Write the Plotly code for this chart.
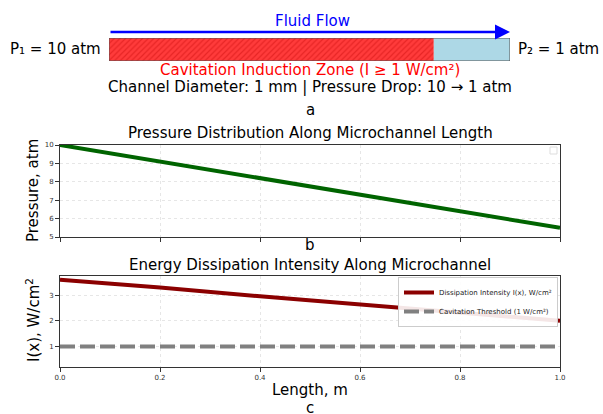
import plotly.graph_objects as go

# ---- data ----
length = [0.0, 0.2, 0.4, 0.6, 0.8, 1.0]
pressure = [10.0, 9.1, 8.2, 7.3, 6.4, 5.5]
intensity = [3.6, 3.3, 2.96, 2.65, 2.31, 2.0]
threshold = [1.0, 1.0, 1.0, 1.0, 1.0, 1.0]
length_ticks = [0.0, 0.2, 0.4, 0.6, 0.8, 1.0]
length_tick_labels = ["0.0", "0.2", "0.4", "0.6", "0.8", "1.0"]
pressure_ticks = [5, 6, 7, 8, 9, 10]
intensity_ticks = [1, 2, 3]
channel_length = 1.0
cavitation_end = 0.81

W, H = 603, 414
FONT = "DejaVu Sans"

def px(x):
    return x / W

def py(y):
    return 1 - y / H

fig = go.Figure()

# ---- diagram (panel a) ----
fig.add_trace(go.Bar(
    x=[cavitation_end], y=[0.5], base=[0], orientation="h", width=1,
    marker=dict(color="#ff3030", line=dict(width=0),
                pattern=dict(shape="/", fgcolor="#d01010", bgcolor="#ff3b3b", size=4, solidity=0.3)),
    xaxis="x3", yaxis="y3", showlegend=False, hoverinfo="skip"))
fig.add_trace(go.Bar(
    x=[channel_length - cavitation_end], y=[0.5], base=[cavitation_end], orientation="h", width=1,
    marker=dict(color="#add8e6", line=dict(width=0)),
    xaxis="x3", yaxis="y3", showlegend=False, hoverinfo="skip"))

# ---- panel b ----
fig.add_trace(go.Scatter(x=length, y=pressure, mode="lines",
                         line=dict(color="#006400", width=4),
                         xaxis="x", yaxis="y", showlegend=False))

# ---- panel c ----
fig.add_trace(go.Scatter(x=length, y=intensity, mode="lines",
                         line=dict(color="#8b0000", width=4),
                         name="Dissipation Intensity I(x), W/cm²",
                         xaxis="x2", yaxis="y2"))
fig.add_trace(go.Scatter(x=length, y=threshold, mode="lines",
                         line=dict(color="#808080", width=4, dash="15px,5px"),
                         name="Cavitation Threshold (1 W/cm²)",
                         xaxis="x2", yaxis="y2"))

axis_common = dict(showline=True, linecolor="#333333", linewidth=1, mirror=True,
                   ticks="outside", ticklen=4, tickcolor="#333333",
                   showgrid=True, gridcolor="#e6e6e6", griddash="dot", gridwidth=1,
                   zeroline=False, tickfont=dict(family=FONT, size=7, color="#333333"),
                   automargin=False)

fig.update_layout(
    width=W, height=H,
    margin=dict(l=0, r=0, t=0, b=0),
    paper_bgcolor="white", plot_bgcolor="white",
    font=dict(family=FONT, color="black"),
    barmode="overlay",
    xaxis=dict(domain=[px(60), px(560)], range=[0, 1], tickvals=length_ticks,
               showticklabels=False, anchor="y", **axis_common),
    yaxis=dict(domain=[py(237), py(145)], range=[5, 10], tickvals=pressure_ticks,
               anchor="x", **axis_common),
    xaxis2=dict(domain=[px(60), px(560)], range=[0, 1], tickvals=length_ticks,
                ticktext=length_tick_labels, anchor="y2", **axis_common),
    yaxis2=dict(domain=[py(367), py(276)], range=[0.2, 3.75], tickvals=intensity_ticks,
                anchor="x2", **axis_common),
    xaxis3=dict(domain=[px(109), px(510)], range=[0, channel_length], visible=False,
                anchor="y3", fixedrange=True),
    yaxis3=dict(domain=[py(61), py(38)], range=[0, 1], visible=False,
                anchor="x3", fixedrange=True),
    legend=dict(x=px(558), y=py(277), xanchor="right", yanchor="top",
                bgcolor="rgba(255,255,255,0.9)", bordercolor="#cccccc", borderwidth=1,
                font=dict(family=FONT, size=7, color="#222222"),
                itemwidth=30, tracegroupgap=0),
)

# channel outline and empty legend box in panel b
fig.add_shape(type="rect", xref="x3", yref="y3", x0=0, x1=channel_length, y0=0, y1=1,
              line=dict(color="#555555", width=1))
fig.add_shape(type="rect", xref="paper", yref="paper",
              x0=px(550), x1=px(557), y0=py(154), y1=py(147),
              line=dict(color="#dddddd", width=1), fillcolor="white")

# flow arrow along the whole channel
fig.add_annotation(x=channel_length, y=py(32), ax=0, ay=0, xref="x3", yref="paper",
                   axref="x3", ayref="pixel", text="", showarrow=True,
                   arrowhead=2, arrowsize=1.2, arrowwidth=2.5, arrowcolor="#0000ff")

def txt(text, x, y, size=15, color="black", angle=0):
    fig.add_annotation(text=text, x=px(x), y=py(y), xref="paper", yref="paper",
                       showarrow=False, xanchor="center", yanchor="middle",
                       textangle=angle, font=dict(family=FONT, size=size, color=color))

txt("Fluid Flow", 312, 21, color="#0000ff")
txt("P₁ = 10 atm", 55, 49)
txt("P₂ = 1 atm", 558, 49)
txt("Cavitation Induction Zone (I ≥ 1 W/cm²)", 310, 70, color="#ff0000")
txt("Channel Diameter: 1 mm | Pressure Drop: 10 → 1 atm", 310, 87)
txt("a", 310, 110)
txt("Pressure Distribution Along Microchannel Length", 310, 133)
txt("b", 310, 245)
txt("Energy Dissipation Intensity Along Microchannel", 310, 265)
txt("Length, m", 310, 390)
txt("c", 310, 408)
txt("Pressure, atm", 33, 191, angle=-90)
txt("I(x), W/cm<sup>2</sup>", 33, 320, angle=-90)

fig.write_html("out.html")
